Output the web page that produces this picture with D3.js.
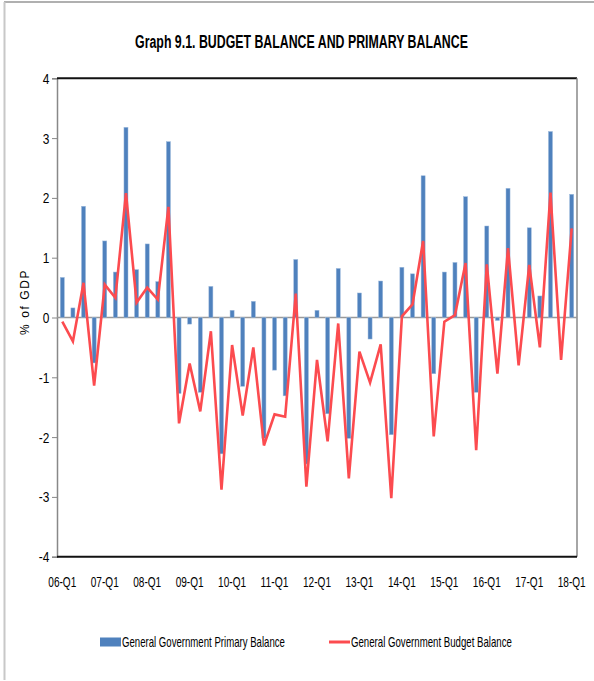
<!DOCTYPE html>
<html>
<head>
<meta charset="utf-8">
<script src="https://cdn.jsdelivr.net/npm/d3@7"></script>
<style>
  body { margin: 0; background: #fff; }
  svg text { font-family: "Liberation Sans", Arial, sans-serif; fill: #000; }
</style>
</head>
<body>
<div id="container"></div>
<script>
// quarters 06-Q1 .. 18-Q1
const years = ["06","07","08","09","10","11","12","13","14","15","16","17","18"];
const quarters = [];
years.forEach(y => {
    ["Q1","Q2","Q3","Q4"].forEach(q => {
        if (y === "18" && q !== "Q1") return;
        quarters.push(y + "-" + q);
    });
});

// General Government Primary Balance (% of GDP)
const primaryBalance = [
    0.67, 0.16, 1.86, -0.76,
    1.28, 0.76, 3.18, 0.80,
    1.23, 0.60, 2.94, -1.27,
    -0.11, -1.25, 0.52, -2.28,
    0.12, -1.15, 0.27, -2.02,
    -0.88, -1.31, 0.97, -2.45,
    0.12, -1.61, 0.82, -2.02,
    0.41, -0.36, 0.61, -1.96,
    0.84, 0.73, 2.37, -0.94,
    0.76, 0.92, 2.02, -1.25,
    1.53, -0.05, 2.16, 0.00,
    1.50, 0.36, 3.11, 0.00,
    2.06
];

// General Government Budget Balance (% of GDP)
const budgetBalance = [
    -0.07, -0.40, 0.58, -1.14,
    0.55, 0.33, 2.08, 0.25,
    0.50, 0.30, 1.85, -1.77,
    -0.77, -1.57, -0.23, -2.88,
    -0.46, -1.64, -0.50, -2.14,
    -1.62, -1.66, 0.40, -2.83,
    -0.71, -2.07, -0.10, -2.69,
    -0.57, -1.09, -0.45, -3.02,
    0.02, 0.22, 1.28, -1.99,
    -0.07, 0.04, 0.91, -2.22,
    0.89, -0.94, 1.16, -0.80,
    0.88, -0.50, 2.09, -0.71,
    1.49
];

const yTicks = [-4, -3, -2, -1, 0, 1, 2, 3, 4];
const xTickLabels = quarters.filter(q => q.endsWith("Q1"));

const W = 594, H = 681;
const margin = { top: 78.3, right: 17, bottom: 124.3, left: 57 };
const width = W - margin.left - margin.right,
      height = H - margin.top - margin.bottom;

// squeeze a text horizontally to a given width (mimics the narrow Calibri look)
function squeeze(sel, target) {
    sel.each(function() {
        const w = this.getComputedTextLength();
        if (w > 0) d3.select(this).attr("transform", "scale(" + (target / w) + ",1)");
    });
}

const root = d3.select("#container")
    .append("svg")
        .attr("width", W)
        .attr("height", H);

// outer frame (top and left edges only)
root.append("line")
    .attr("x1", 4).attr("x2", W).attr("y1", 2).attr("y2", 2)
    .attr("stroke", "#b0b0b0").attr("stroke-width", 2);
root.append("line")
    .attr("x1", 4.5).attr("x2", 4.5).attr("y1", 2).attr("y2", 680)
    .attr("stroke", "#c8c8c8").attr("stroke-width", 2);

// title
root.append("g")
    .attr("transform", "translate(301.5,48)")
  .append("text")
    .attr("text-anchor", "middle")
    .attr("font-size", 19)
    .attr("font-weight", "bold")
    .text("Graph 9.1. BUDGET BALANCE AND PRIMARY BALANCE")
    .call(squeeze, 333);

const svg = root.append("g")
    .attr("transform", "translate(" + margin.left + "," + margin.top + ")");

const x = d3.scaleBand()
    .domain(quarters)
    .range([0, width])
    .paddingInner(0.62)
    .paddingOuter(0.31);

const y = d3.scaleLinear()
    .domain([-4, 4])
    .range([height, 0]);

// y axis
const yAxis = svg.append("g")
    .call(d3.axisLeft(y).tickValues(yTicks).tickSize(5).tickFormat(d => String(d)));
yAxis.select(".domain").attr("stroke", "#888").attr("stroke-width", 1.5);
yAxis.selectAll(".tick line").attr("stroke", "#888");
yAxis.selectAll(".tick text")
    .attr("font-size", 14)
    .attr("x", -9)
    .attr("dy", "0.35em")
    .attr("transform", "scale(0.85,1)");

// y axis title
root.append("text")
    .attr("transform", "translate(29,302) rotate(-90)")
    .attr("text-anchor", "middle")
    .attr("font-size", 12)
    .style("letter-spacing", "1.6px")
    .text("% of GDP");

// frame of plot area
svg.append("line")
    .attr("x1", 0).attr("x2", width).attr("y1", 0).attr("y2", 0)
    .attr("stroke", "#111").attr("stroke-width", 2);
svg.append("line")
    .attr("x1", width).attr("x2", width).attr("y1", 0).attr("y2", height)
    .attr("stroke", "#888").attr("stroke-width", 1.5);
svg.append("line")
    .attr("x1", 0).attr("x2", width).attr("y1", height).attr("y2", height)
    .attr("stroke", "#111").attr("stroke-width", 2);

// zero line
svg.append("line")
    .attr("x1", 0).attr("x2", width).attr("y1", y(0)).attr("y2", y(0))
    .attr("stroke", "#999").attr("stroke-width", 1.5);

// bars
svg.selectAll("rect.bar")
    .data(primaryBalance)
    .enter().append("rect")
    .attr("class", "bar")
    .attr("x", (d, i) => x(quarters[i]))
    .attr("width", x.bandwidth())
    .attr("y", d => y(Math.max(0, d)))
    .attr("height", d => Math.abs(y(d) - y(0)))
    .attr("fill", "#4f81bd")
    .attr("stroke", "#9cb9dc")
    .attr("stroke-width", 0.5);

// budget balance line
svg.append("path")
    .datum(budgetBalance)
    .attr("fill", "none")
    .attr("stroke", "#fc4b4f")
    .attr("stroke-width", 2.6)
    .attr("stroke-linejoin", "miter")
    .attr("d", d3.line()
        .x((d, i) => x(quarters[i]) + x.bandwidth() / 2)
        .y(d => y(d))
    );

// x axis labels (every Q1)
const xAxis = svg.append("g")
    .attr("transform", "translate(0," + height + ")")
    .call(d3.axisBottom(x).tickValues(xTickLabels).tickSize(0).tickPadding(20));
xAxis.select(".domain").remove();
xAxis.selectAll(".tick text")
    .attr("font-size", 14)
    .call(squeeze, 28);

// legend
const legend = root.append("g").attr("transform", "translate(0,642)");
legend.append("rect")
    .attr("x", 100).attr("y", -4.5)
    .attr("width", 21).attr("height", 9)
    .attr("fill", "#4f81bd");
legend.append("g")
    .attr("transform", "translate(122,0)")
  .append("text")
    .attr("dy", "0.35em")
    .attr("font-size", 14)
    .text("General Government Primary Balance")
    .call(squeeze, 163);
legend.append("line")
    .attr("x1", 329).attr("x2", 350).attr("y1", 0).attr("y2", 0)
    .attr("stroke", "#fc4b4f").attr("stroke-width", 3);
legend.append("g")
    .attr("transform", "translate(351,0)")
  .append("text")
    .attr("dy", "0.35em")
    .attr("font-size", 14)
    .text("General Government Budget Balance")
    .call(squeeze, 161);
</script>
</body>
</html>
